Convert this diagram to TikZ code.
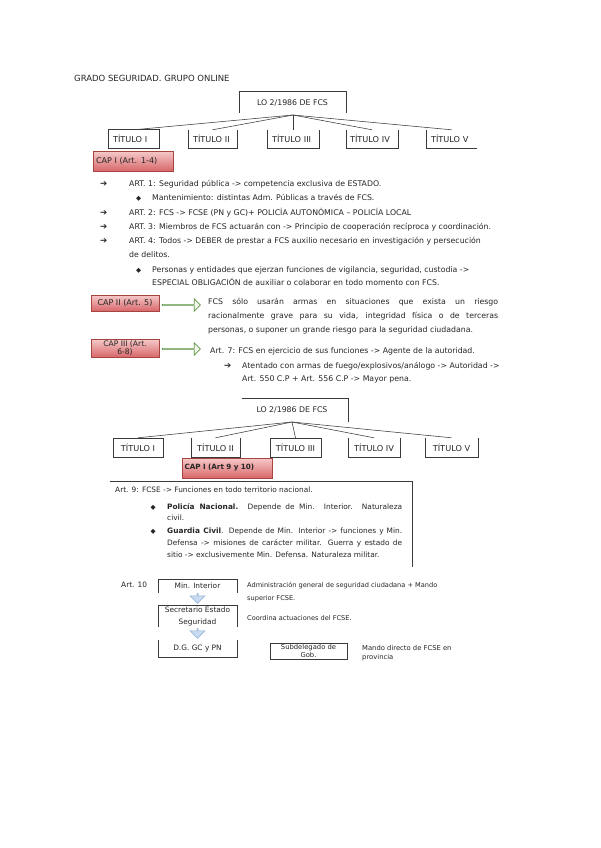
\documentclass[tikz,border=0pt]{standalone}
\usepackage{fontspec}
\setmainfont{DejaVu Sans}
\usetikzlibrary{shapes.arrows}
\definecolor{redtop}{HTML}{F6CACA}
\definecolor{redbot}{HTML}{D8676A}
\definecolor{redline}{HTML}{A64442}
\definecolor{grnline}{HTML}{5E9443}
\definecolor{grnfill}{HTML}{F4F9EF}
\definecolor{blufill}{HTML}{C9DBF2}
\definecolor{bluline}{HTML}{8EAED6}
\definecolor{ink}{HTML}{262626}
\definecolor{boxline}{HTML}{3A3A3A}
\newcommand\myfs[1]{\fontsize{#1}{#1}\selectfont}
\tikzset{
  txt/.style={anchor=base west, inner sep=0pt, text=ink, font=\myfs{7.8}},
  txtb/.style={txt, font=\myfs{7.4}},
  txts/.style={txt, font=\myfs{6.6}},
  bul/.style={anchor=base west, inner sep=0pt, text=ink, font=\myfs{8.6}},
  dia/.style={anchor=base west, inner sep=0pt, text=ink, font=\myfs{6.6}},
  capbox/.style={draw=redline, line width=0.7pt, top color=redtop, bottom color=redbot,
    inner sep=0pt, text=ink, font=\myfs{8}, align=center},
  tbox/.style={inner sep=0pt, text=ink, font=\myfs{8.2}, minimum height=18pt},
  bbox/.style={inner sep=0pt, text=ink, font=\myfs{7.4}, minimum width=79pt},
  frame/.style={draw=boxline, line width=0.6pt},
  branch/.style={draw=boxline, line width=0.55pt},
  garrow/.style={single arrow, draw=grnline, fill=grnfill, line width=0.7pt, inner sep=0pt,
    minimum height=38pt, minimum width=12pt, single arrow head extend=3pt,
    single arrow head indent=0pt},
  barrow/.style={single arrow, draw=bluline, fill=blufill, line width=0.5pt, inner sep=0pt,
    minimum height=10pt, minimum width=15pt, single arrow head extend=3.5pt,
    shape border rotate=270},
}
\begin{document}
\begin{tikzpicture}[x=1pt,y=-1pt]
\path[fill=white,use as bounding box] (0,0) rectangle (600,848);

% title
\node[anchor=base west, inner sep=0pt, text=ink, font=\myfs{8.5}] (title) at (74,82) {GRADO SEGURIDAD. GRUPO ONLINE};

% ---------- tree 1 ----------
\node[inner sep=0pt, minimum width=107pt, minimum height=21pt, text=ink, font=\myfs{7.8}] (lo1) at (292.5,102.5) {LO 2/1986 DE FCS};
\draw[frame] (lo1.south west) -- (lo1.north west) -- (lo1.north east) -- (lo1.south east);
\coordinate (root1) at (293,115);
\node[tbox, text width=41pt, inner xsep=5pt, align=left] (t1a) at (133.5,139) {TÍTULO I};
\node[tbox, text width=39pt, inner xsep=5pt, align=left] (t1b) at (212.5,139) {TÍTULO II};
\node[tbox, text width=42pt, inner xsep=5pt, align=left] (t1c) at (293,139) {TÍTULO III};
\node[tbox, text width=44pt, inner xsep=4pt, align=left] (t1d) at (372,139) {TÍTULO IV};
\node[tbox, text width=41pt, inner xsep=5pt, align=left] (t1e) at (451.5,139) {TÍTULO V};
\draw[frame] (t1a.south west) rectangle (t1a.north east);
\draw[frame] (t1b.north west) -- (t1b.south west) -- (t1b.south east) -- (t1b.north east);
\draw[frame] (t1c.north west) -- (t1c.south west) -- (t1c.south east) -- (t1c.north east);
\draw[frame] (t1d.north west) -- (t1d.south west) -- (t1d.south east) -- (t1d.north east);
\draw[frame] (t1e.north west) -- (t1e.south west) -- (t1e.south east);
\draw[branch] (root1) -- (t1a.north);
\draw[branch] (root1) -- (t1b.north);
\draw[branch] (root1) -- (t1c.north);
\draw[branch] (root1) -- (t1d.north);
\draw[branch] (root1) -- (t1e.north);

\node[capbox, minimum width=80pt, minimum height=20pt, text width=74pt, inner xsep=3pt, align=left] (cap1) at (133,161) {CAP I (Art. 1-4)};

% section 1 bullets
\node[bul] (a1) at (100,186.5) {➔};
\node[txt] (l1) at (129,186.5) {ART. 1: Seguridad pública -> competencia exclusiva de ESTADO.};
\node[dia] (d1) at (136,200.5) {◆};
\node[txt] (l2) at (152,200.5) {Mantenimiento: distintas Adm. Públicas a través de FCS.};
\node[bul] (a2) at (100,215.5) {➔};
\node[txt] (l3) at (129,215.5) {ART. 2: FCS -> FCSE (PN y GC)+ POLICÍA AUTONÓMICA – POLICÍA LOCAL};
\node[bul] (a3) at (100,229.5) {➔};
\node[txt] (l4) at (129,229.5) {ART. 3: Miembros de FCS actuarán con -> Principio de cooperación recíproca y coordinación.};
\node[bul] (a4) at (100,243.5) {➔};
\node[txt] (l5) at (129,243.5) {ART. 4: Todos -> DEBER de prestar a FCS auxilio necesario en investigación y persecución};
\node[txt] (l6) at (129,257.5) {de delitos.};
\node[dia] (d2) at (136,272.5) {◆};
\node[txt] (l7) at (152,272.5) {Personas y entidades que ejerzan funciones de vigilancia, seguridad, custodia ->};
\node[txt] (l8) at (152,285.5) {ESPECIAL OBLIGACIÓN de auxiliar o colaborar en todo momento con FCS.};

% CAP II / III
\node[capbox, minimum width=68pt, minimum height=16pt] (cap2) at (125,303) {CAP II (Art. 5)};
\node[garrow] (g1) at (181,305) {};
\node[txt] (p1) at (208,304.5) {\makebox[290pt][s]{FCS sólo usarán armas en situaciones que exista un riesgo}};
\node[txt] (p2) at (208,318.5) {\makebox[290pt][s]{racionalmente grave para su vida, integridad física o de terceras}};
\node[txt] (p3) at (208,332.5) {personas, o suponer un grande riesgo para la seguridad ciudadana.};

\node[capbox, minimum width=68pt, minimum height=18pt, font=\fontsize{7.6}{8.4}\selectfont] (cap3) at (125,348) {CAP III (Art.\\6-8)};
\node[garrow] (g2) at (181,349) {};
\node[txt] (q1) at (210,353.5) {Art. 7: FCS en ejercicio de sus funciones -> Agente de la autoridad.};
\node[bul] (a5) at (224,368.5) {➔};
\node[txt] (q2) at (242,368.5) {Atentado con armas de fuego/explosivos/análogo -> Autoridad ->};
\node[txt] (q3) at (242,381.5) {Art. 550 C.P + Art. 556 C.P -> Mayor pena.};

% ---------- tree 2 ----------
\node[inner sep=0pt, minimum width=106pt, minimum height=24pt, text=ink, font=\myfs{7.8}] (lo2) at (295,410) {\hspace*{-6pt}LO 2/1986 DE FCS};
\draw[frame] (lo2.north west) -- (lo2.north east) -- (lo2.south east);
\coordinate (root2) at (292,422);
\node[tbox, minimum width=50pt, minimum height=19pt] (t2a) at (138,447.5) {TÍTULO I};
\node[tbox, minimum width=49pt, minimum height=19pt] (t2b) at (215.5,447.5) {TÍTULO II};
\node[tbox, minimum width=51pt, minimum height=19pt] (t2c) at (295.5,447.5) {TÍTULO III};
\node[tbox, minimum width=52pt, minimum height=19pt] (t2d) at (374,447.5) {TÍTULO IV};
\node[tbox, minimum width=53pt, minimum height=19pt] (t2e) at (451.5,447.5) {TÍTULO V};
\draw[frame] (t2a.south west) rectangle (t2a.north east);
\draw[frame] (t2b.north west) -- (t2b.south west) -- (t2b.south east) -- (t2b.north east);
\draw[frame] (t2c.south west) rectangle (t2c.north east);
\draw[frame] (t2d.north west) -- (t2d.south west) -- (t2d.south east) -- (t2d.north east);
\draw[frame] (t2e.north west) -- (t2e.south west) -- (t2e.south east) -- (t2e.north east);
\draw[branch] (root2) -- (t2a.north);
\draw[branch] (root2) -- (t2b.north);
\draw[branch] (root2) -- (t2c.north);
\draw[branch] (root2) -- (t2d.north);
\draw[branch] (root2) -- (t2e.north);

\node[capbox, minimum width=90pt, minimum height=20pt, text width=85pt, inner xsep=2.5pt, align=left, font=\bfseries\myfs{7.2}] (cap4) at (227,468) {CAP I (Art 9 y 10)};

% Art 9 frame
\node[inner sep=0pt, minimum width=302pt, minimum height=86pt] (art9) at (261,524) {};
\draw[frame] (art9.north west) -- (art9.north east) -- (art9.south east);
\node[txtb] (r1) at (115,492.5) {Art. 9: FCSE -> Funciones en todo territorio nacional.};
\node[dia] (d3) at (150.5,509.5) {◆};
\node[txtb] (r2) at (167,509.5) {\makebox[235pt][s]{\textbf{Policía Nacional.} Depende de Min. Interior. Naturaleza}};
\node[txtb] (r3) at (167,520.5) {civil.};
\node[dia] (d4) at (150.5,533.5) {◆};
\node[txtb] (r4) at (167,533.5) {\makebox[235pt][s]{\textbf{Guardia Civil}. Depende de Min. Interior -> funciones y Min.}};
\node[txtb] (r5) at (167,545.5) {\makebox[235pt][s]{Defensa -> misiones de carácter militar. Guerra y estado de}};
\node[txtb] (r6) at (167,557.5) {sitio -> exclusivemente Min. Defensa. Naturaleza militar.};

% Art 10
\node[txtb] (art10) at (121,587.5) {Art. 10};
\node[bbox, minimum height=13pt] (min) at (197.5,586) {Min. Interior};
\draw[frame] (min.south west) -- (min.north west) -- (min.north east) -- (min.south east);
\node[barrow] (ba1) at (197.5,598) {};
\node[bbox, minimum height=22pt, align=center, font=\fontsize{7.4}{12}\selectfont] (sec) at (197.5,616) {Secretario Estado\\Seguridad};
\draw[frame] (sec.south west) -- (sec.north west) -- (sec.north east) -- (sec.south east);
\node[barrow] (ba2) at (197.5,633) {};
\node[bbox, minimum height=17pt] (dg) at (197.5,648.5) {D.G. GC y PN};
\draw[frame] (dg.north west) -- (dg.south west) -- (dg.south east) -- (dg.north east);

\node[txts] (s1) at (247,587.5) {Administración general de seguridad ciudadana + Mando};
\node[txts] (s2) at (247,600.5) {superior FCSE.};
\node[txts] (s3) at (247,620.5) {Coordina actuaciones del FCSE.};
\node[inner sep=0pt, minimum width=77pt, minimum height=16pt, text=ink, font=\fontsize{6.8}{8.2}\selectfont, align=center] (sub) at (308.5,651) {Subdelegado de\\Gob.};
\draw[frame] (sub.south west) rectangle (sub.north east);
\node[txt, font=\myfs{6.8}] (m1) at (362,650) {Mando directo de FCSE en};
\node[txt, font=\myfs{6.8}] (m2) at (362,659) {provincia};
\end{tikzpicture}
\end{document}
